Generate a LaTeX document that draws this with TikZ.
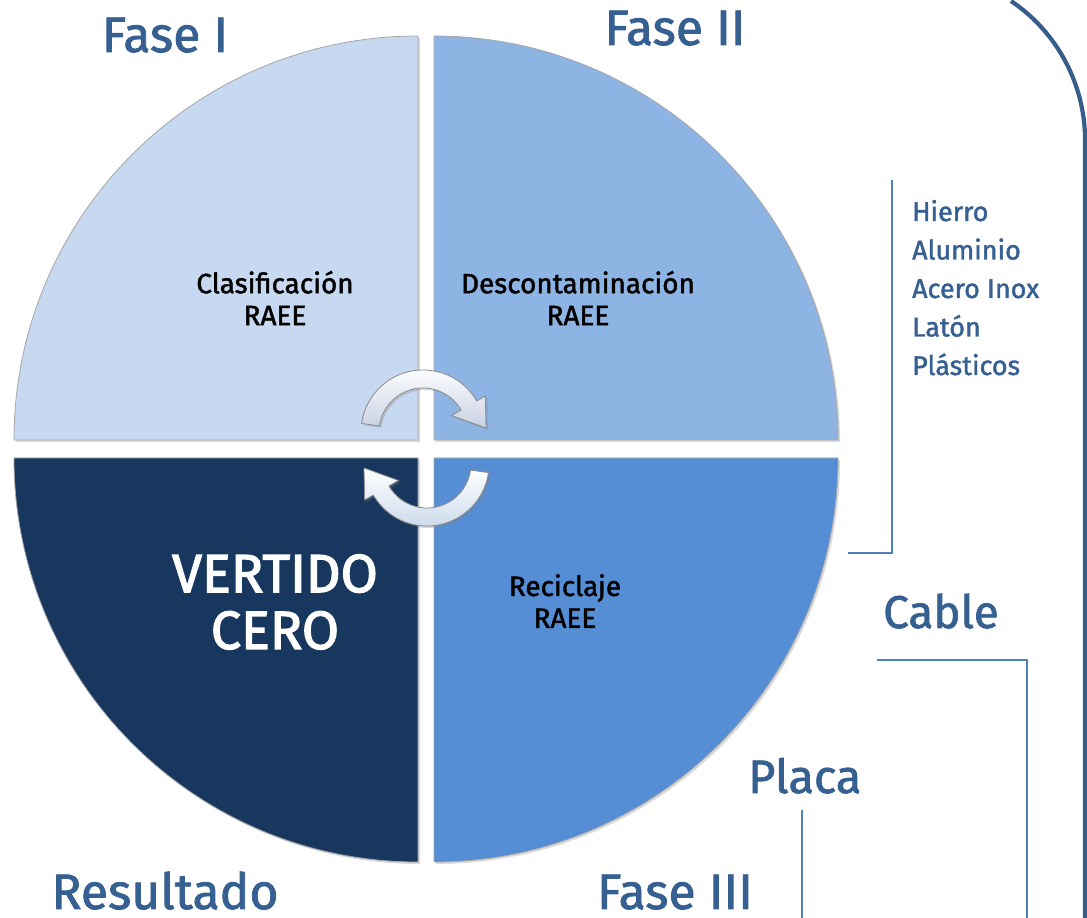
\documentclass[tikz,border=0pt]{standalone}
\usepackage{fontspec}
\setmainfont{Fira Sans}
\newfontfamily\dinmedio{Fira Sans}[FakeBold=1.6]
\newfontfamily\dinfuerte{Fira Sans}[FakeBold=2.4]
\usepackage{tikz}
\usetikzlibrary{shadows}
\definecolor{faseuno}{HTML}{C6D9F1}
\definecolor{fasedos}{HTML}{8EB4E3}
\definecolor{fasetres}{HTML}{558ED5}
\definecolor{resultado}{HTML}{17375E}
\definecolor{titulo}{HTML}{366092}
\definecolor{linea}{HTML}{4F81BD}
\definecolor{borde}{HTML}{385D8A}
\definecolor{flechaclara}{HTML}{C9D1E3}
\newcommand{\cuadrante}[4] {\fill [#4, draw=black!35, line width=0.8pt, drop shadow={opacity=0.3, shadow xshift=2bp, shadow yshift=-2bp}] (#1) -- ++(#2:404bp) arc [start angle=#2, end angle=#3, radius=404bp] -- cycle;}
\newcommand{\fasetitulo}[3] {\node [anchor=base, text=titulo, font=\dinmedio\fontsize{50}{50}\selectfont, inner sep=0] at (#1) (#2) {#3};}
\newcommand{\fasetexto}[3] {\node [align=center, font=\dinmedio\fontsize{28}{32}\selectfont, inner sep=0] at (#1) (#2) {#3};}
\newcommand{\flechaciclo}[3] {\begin{scope}[shift={(#1)}, rotate=#2]
  \path [top color=white, bottom color=#3, draw=black!45, line width=0.8pt, drop shadow={opacity=0.3, shadow xshift=2bp, shadow yshift=-2bp}]
    (172:62bp) arc [start angle=172, end angle=30, radius=62bp] -- (30:72bp) -- (63,4) -- (30:33bp) -- (30:44bp) arc [start angle=30, end angle=172, radius=44bp] -- cycle;
\end{scope}}

\begin{document}
\begin{tikzpicture}[x=1bp, y=1bp]
\useasboundingbox (0,0) rectangle (1087,918);

\cuadrante {418,478} {180} {90} {faseuno};
\cuadrante {434,478} {0} {90} {fasedos};
\cuadrante {418,460} {180} {270} {resultado};
\cuadrante {434,460} {0} {-90} {fasetres};

\flechaciclo {423,486} {0} {flechaclara};
\flechaciclo {427,454} {180} {white!70!linea};

\fasetexto {275,620} {clasif} {Clasificación\\RAEE};
\fasetexto {578,620} {descont} {Descontaminación\\RAEE};
\fasetexto {565,317} {reciclaje} {Reciclaje\\RAEE};
\node [align=center, text=white, font=\dinfuerte\fontsize{54}{57}\selectfont, inner sep=0] at (275,316) (vertido) {VERTIDO\\CERO};

\fasetitulo {165,866} {fase1} {Fase I};
\fasetitulo {675,873} {fase2} {Fase II};
\fasetitulo {675,9} {fase3} {Fase III};
\fasetitulo {165,9} {result} {Resultado};

% materiales recuperados
\foreach \mat [count=\i] in {Hierro, Aluminio, Acero Inox, Latón, Plásticos}
  \node [anchor=base west, text=titulo, font=\dinmedio\fontsize{27}{27}\selectfont, inner sep=0] at (912,{697-38.5*(\i-1)}) (mat\i) {\mat};
\node [anchor=base west, text=titulo, font=\dinmedio\fontsize{46}{46}\selectfont, inner sep=0] at (883,290) (cable) {Cable};
\node [anchor=base west, text=titulo, font=\dinmedio\fontsize{47}{47}\selectfont, inner sep=0] at (748,125) (placa) {Placa};

\coordinate (matarriba) at (892,738);
\coordinate (matesquina) at (892,365);
\coordinate (matfin) at (848,365);
\coordinate (cableini) at (877,258);
\coordinate (cableesq) at (1027,258);
\coordinate (cablefin) at (1027,0);
\coordinate (placaini) at (802,108);
\coordinate (placafin) at (802,0);
\draw [linea, line width=2bp] (matarriba) -- (matesquina) -- (matfin);
\draw [linea, line width=2bp] (cableini) -- (cableesq) -- (cablefin);
\draw [linea, line width=2bp] (placaini) -- (placafin);

% marco exterior
\draw [borde, line width=4.2bp] (1011,917) arc [start angle=56, end angle=0, radius=168bp] -- (1085,0);

\end{tikzpicture}
\end{document}
